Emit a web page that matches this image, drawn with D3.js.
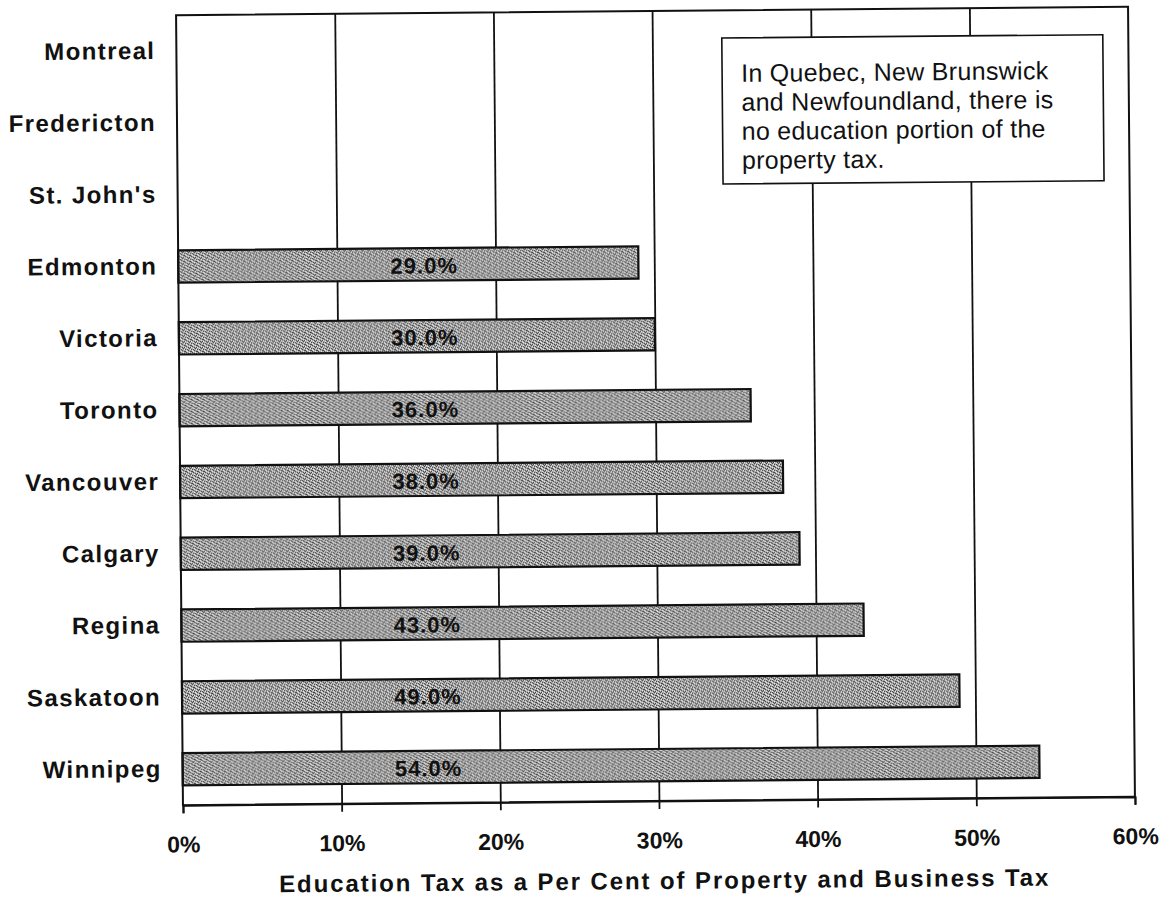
<!DOCTYPE html>
<html>
<head>
<meta charset="utf-8">
<script src="https://cdn.jsdelivr.net/npm/d3@7"></script>
<style>
  html, body { margin: 0; padding: 0; background: #fff; }
  svg { display: block; }
  text { font-family: "Liberation Sans", Arial, Helvetica, sans-serif; fill: #111; }
</style>
</head>
<body>
<svg id="chart" width="1169" height="899"></svg>
<script>
// Cities, top to bottom
const cities = ["Montreal", "Fredericton", "St. John's", "Edmonton", "Victoria",
  "Toronto", "Vancouver", "Calgary", "Regina", "Saskatoon", "Winnipeg"];
// Education tax as a share of property and business tax (%); null = no education portion
const educationShare = [null, null, null, 29.0, 30.0, 36.0, 38.0, 39.0, 43.0, 49.0, 54.0];
// Horizontal axis ticks (%)
const xTicks = [0, 10, 20, 30, 40, 50, 60];
const axisTitle = "Education Tax as a Per Cent of Property and Business Tax";
const noteLines = ["In Quebec, New Brunswick", "and Newfoundland, there is",
  "no education portion of the", "property tax."];

const rows = cities.map((c, i) => ({ city: c, value: educationShare[i] }));

const svg = d3.select("#chart");
const margin = { left: 179.5, top: 11 };
const W = 952, H = 790;

// halftone-like grey fill for the bars
const defs = svg.append("defs");
const pat = defs.append("pattern").attr("id", "halftone")
  .attr("width", 6).attr("height", 6).attr("patternUnits", "userSpaceOnUse");
pat.append("rect").attr("width", 6).attr("height", 6).attr("fill", "#a9a9a9");
const dots = "d.w..d" + ".d..w." + "w..d.d" + "..w.d." + "d.d..w" + ".w.d..";
for (let k = 0; k < 36; k++) {
  const ch = dots[k];
  if (ch === ".") continue;
  pat.append("rect").attr("x", k % 6).attr("y", Math.floor(k / 6))
    .attr("width", 1).attr("height", 1)
    .attr("fill", ch === "d" ? "#444" : "#eee");
}

// the whole sheet sits very slightly tilted
const root = svg.append("g")
  .attr("transform", `rotate(-0.5, ${margin.left + W / 2}, ${margin.top + H / 2})`);
const g = root.append("g").attr("transform", `translate(${margin.left},${margin.top})`);

const x = d3.scaleLinear().domain([0, 60]).range([0, W]);
const y = d3.scaleBand().domain(cities).range([0, H])
  .paddingInner(0.55).paddingOuter(0.275);

// vertical gridlines
g.append("g").attr("class", "grid")
  .call(d3.axisBottom(x).tickValues(xTicks.slice(1, -1)).tickSize(H).tickFormat(""))
  .call(s => s.select(".domain").remove())
  .call(s => s.selectAll("line").attr("stroke", "#111").attr("stroke-width", 1.8));

// bars
g.append("g").selectAll("rect")
  .data(rows.filter(d => d.value != null))
  .join("rect")
  .attr("x", x(0))
  .attr("y", d => y(d.city))
  .attr("width", d => x(d.value) - x(0))
  .attr("height", y.bandwidth())
  .attr("fill", "url(#halftone)")
  .attr("stroke", "#111")
  .attr("stroke-width", 2.2);

// value labels inside the bars
const labelAt = 15.5;
g.append("g").selectAll("text")
  .data(rows.filter(d => d.value != null))
  .join("text")
  .attr("x", x(labelAt))
  .attr("y", d => y(d.city) + y.bandwidth() / 2 + 9)
  .attr("text-anchor", "middle")
  .attr("font-size", 22).attr("font-weight", "bold")
  .attr("letter-spacing", 1)
  .text(d => d.value.toFixed(1) + "%");

// plot frame
g.append("rect").attr("width", W).attr("height", H)
  .attr("fill", "none").attr("stroke", "#111").attr("stroke-width", 2);

// bottom axis
g.append("g").attr("transform", `translate(0,${H})`)
  .call(d3.axisBottom(x).tickValues(xTicks).tickFormat(d => d + "%").tickSize(8).tickPadding(23))
  .call(s => s.select(".domain").attr("stroke", "#111").attr("stroke-width", 2))
  .call(s => s.selectAll(".tick line").attr("stroke", "#111").attr("stroke-width", 1.8))
  .call(s => s.selectAll(".tick text")
    .attr("font-size", 23).attr("font-weight", "bold").attr("fill", "#111"));

// category axis
g.append("g")
  .call(d3.axisLeft(y).tickSize(0).tickPadding(21))
  .call(s => s.select(".domain").remove())
  .call(s => s.selectAll(".tick text")
    .attr("font-size", 24).attr("font-weight", "bold").attr("letter-spacing", 1.4)
    .attr("fill", "#111"));

// axis title
g.append("text")
  .attr("x", W / 2 + 5).attr("y", H + 88)
  .attr("text-anchor", "middle")
  .attr("font-size", 24).attr("font-weight", "bold").attr("letter-spacing", 1.9)
  .text(axisTitle);

// note box
const note = g.append("g").attr("transform", `translate(${725 - margin.left},${38.6 - margin.top})`);
note.append("rect").attr("width", 381).attr("height", 146)
  .attr("fill", "#fff").attr("stroke", "#111").attr("stroke-width", 1.6);
note.selectAll("text").data(noteLines).join("text")
  .attr("x", 19).attr("y", (d, i) => 44 + i * 29)
  .attr("font-size", 25).attr("letter-spacing", 0.3)
  .text(d => d);
</script>
</body>
</html>
